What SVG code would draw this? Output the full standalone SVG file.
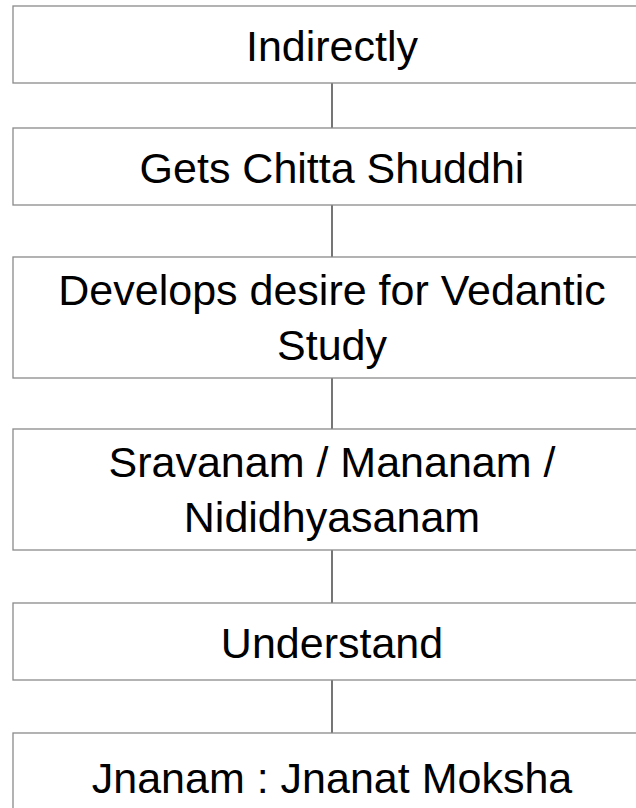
<svg xmlns="http://www.w3.org/2000/svg" width="636" height="808" viewBox="0 0 636 808">
<style>
.box{fill:#ffffff;stroke:#8a8a8a;stroke-width:1.3}
.lbl{font-family:"Liberation Sans",Arial,sans-serif;font-size:43px;fill:#000000;text-anchor:middle}
.conn{stroke:#1a1a1a;stroke-width:1.2;fill:none}
</style>
<rect x="0" y="0" width="636" height="808" fill="#ffffff"/>
<g id="connectors">
<line class="conn" x1="332" y1="83" x2="332" y2="128"/>
<line class="conn" x1="332" y1="205" x2="332" y2="257"/>
<line class="conn" x1="332" y1="378" x2="332" y2="429"/>
<line class="conn" x1="332" y1="550" x2="332" y2="603"/>
<line class="conn" x1="332" y1="680" x2="332" y2="733"/>
</g>
<g id="n1"><rect class="box" x="13" y="6" width="638" height="77"/><text class="lbl" x="332" y="61">Indirectly</text></g>
<g id="n2"><rect class="box" x="13" y="128" width="638" height="77"/><text class="lbl" x="332" y="183">Gets Chitta Shuddhi</text></g>
<g id="n3"><rect class="box" x="13" y="257" width="638" height="121"/><text class="lbl" x="332" y="305">Develops desire for Vedantic</text><text class="lbl" x="332" y="360">Study</text></g>
<g id="n4"><rect class="box" x="13" y="429" width="638" height="121"/><text class="lbl" x="332" y="477">Sravanam / Mananam /</text><text class="lbl" x="332" y="532">Nididhyasanam</text></g>
<g id="n5"><rect class="box" x="13" y="603" width="638" height="77"/><text class="lbl" x="332" y="658">Understand</text></g>
<g id="n6"><rect class="box" x="13" y="733" width="638" height="88"/><text class="lbl" x="332" y="793">Jnanam : Jnanat Moksha</text></g>
</svg>
